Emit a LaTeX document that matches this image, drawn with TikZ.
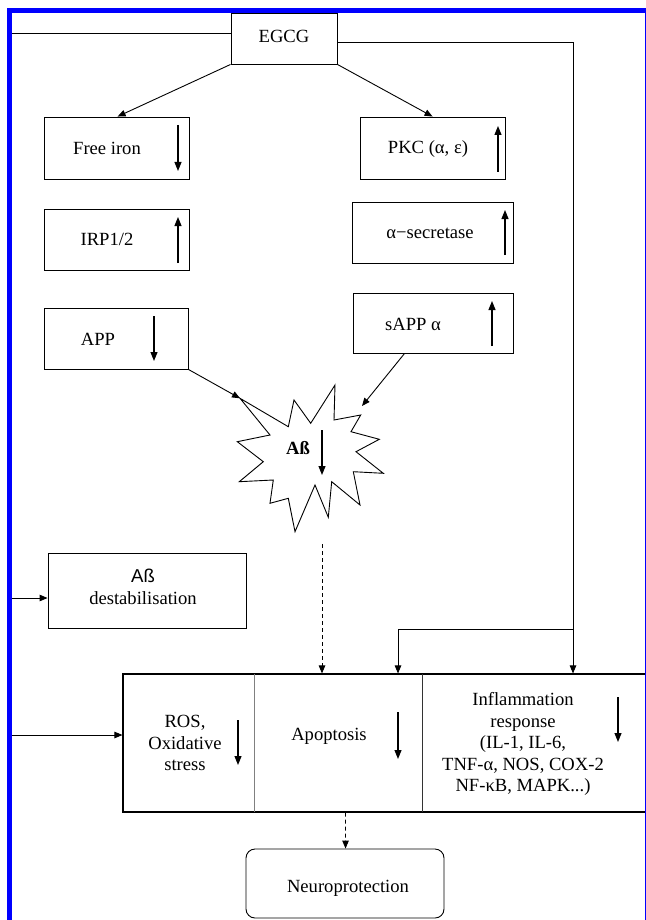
\documentclass[tikz,border=0pt]{standalone}
\usepackage{fontspec}
\setmainfont{Liberation Serif}
\newfontfamily\sansab{Liberation Sans}
\usetikzlibrary{arrows.meta,calc}
\begin{document}
\begin{tikzpicture}[x=1pt,y=-1pt,
  box/.style={draw=black, line width=0.9pt, rectangle, inner sep=0pt},
  lbl/.style={inner sep=0pt, font=\fontsize{18.6}{21.5}\selectfont, align=center},
  conn/.style={draw=black, line width=0.9pt, -{Triangle[length=8pt,width=6.5pt]}},
  dconn/.style={conn, dash pattern=on 4pt off 3pt},
  ind/.style={draw=black, line width=1.1pt, -{Triangle[length=9pt,width=7pt]}},
  frame/.style={draw=blue, line width=5pt}
]
\useasboundingbox (0,0) rectangle (645,920);
\fill[white] (0,0) rectangle (645,920);

% boxes
\node[box, minimum width=106pt, minimum height=51pt] (egcg) at (284,38.5) {};
\node[lbl] (egcgT) at (284,36) {EGCG};

\node[box, minimum width=145pt, minimum height=62pt] (fi) at (116.5,148) {};
\node[lbl] (fiT) at (107,148) {Free iron};
\node[box, minimum width=145pt, minimum height=61pt] (irp) at (116.5,239.5) {};
\node[lbl] (irpT) at (107,239) {IRP1/2};
\node[box, minimum width=144pt, minimum height=61pt] (app) at (116,338.5) {};
\node[lbl] (appT) at (98,339) {APP};

\node[box, minimum width=145pt, minimum height=62pt] (pkc) at (432.5,148) {};
\node[lbl] (pkcT) at (428,149) {PKC (α, ε)};
\node[box, minimum width=161pt, minimum height=61pt] (sec) at (432.5,232.5) {};
\node[lbl] (secT) at (430,233) {α−secretase};
\node[box, minimum width=160pt, minimum height=60pt] (sapp) at (433,323) {};
\node[lbl] (sappT) at (413,324) {sAPP α};

% star
\draw[line width=0.9pt, fill=white] (240,398.3) -- (288.3,426.7) -- (294,400) -- (310.7,423.3) -- (335,385) -- (334,420) -- (360.7,415) -- (351,431.7) -- (379.3,439.3) -- (356,451.7) -- (383.3,473.3) -- (353.3,471.7) -- (360,505) -- (331.7,481.7) -- (328.3,517.3) -- (315,485) -- (295,531.7) -- (288.3,498.3) -- (270,503.3) -- (273.3,480) -- (239.3,481.7) -- (263.3,461.7) -- (237.3,441.7) -- (270,435) -- cycle;
\coordinate (starTL) at (240,398.3);
\coordinate (starTR) at (362,406);
\coordinate (starB) at (322,544);
\node[lbl, font=\fontsize{18.6}{21.5}\selectfont\bfseries] (abT) at (298,448) {Aß};

\node[box, minimum width=198pt, minimum height=75pt] (dest) at (147,590.5) {};
\node[lbl] (destT) at (143,587) {{\sansab Aß}\\destabilisation};

% bottom big box
\node[box, line width=1.1pt, minimum width=523pt, minimum height=138pt] (big) at (384.5,743) {};
\draw[gray, line width=0.9pt] (254,674) -- (254,812);
\draw[black!80, line width=0.9pt] (422,674) -- (422,812);
\node[lbl] (rosT) at (185,743) {ROS,\\Oxidative\\stress};
\node[lbl] (apoT) at (329,736) {Apoptosis};
\node[lbl] (inflT) at (523,744) {Inflammation\\response\\(IL-1, IL-6,\\TNF-α, NOS, COX-2\\NF-κB, MAPK...)};

\node[box, rounded corners=9pt, minimum width=198pt, minimum height=69pt] (neuro) at (345,883.5) {};
\node[lbl] (neuroT) at (348,888) {Neuroprotection};

% indicator arrows
\draw[ind] (178,125) -- (178,171);
\draw[ind] (178,263) -- (178,217);
\draw[ind] (154,316) -- (154,361);
\draw[ind] (498,172) -- (498,126);
\draw[ind] (505,255) -- (505,210);
\draw[ind] (492,346) -- (492,301);
\draw[ind] (322,430) -- (322,475);
\draw[ind] (238,720) -- (238,765);
\draw[ind] (398,712) -- (398,759);
\draw[ind] (618,697) -- (618,742);

% blue frame
\draw[frame] (9.5,930) -- (9.5,10.5) -- (647,10.5) -- (647,930);

% connectors
\coordinate (lft) at (12,33);
\draw[line width=0.9pt] (egcg.west |- lft) -- (lft);
\coordinate (rt) at (573,42);
\draw[conn] (egcg.east |- rt) -- (rt) -- (rt |- big.north);
\coordinate (rtb) at (573,629);
\coordinate (br) at (398,629);
\draw[conn] (rtb) -- (br) -- (br |- big.north);
\draw[conn] (egcg.south west) -- ($(fi.north west)+(74,0)$);
\draw[conn] (egcg.south east) -- ($(pkc.north west)+(73,0)$);
\draw[conn] (app.south east) -- (starTL);
\draw[conn] ($(sapp.south west)+(52,0)$) -- (starTR);
\draw[dconn] (starB) -- (starB |- big.north);
\draw[dconn] ($(big.south west)+(223,0)$) -- ($(neuro.north west)+(100,0)$);
\coordinate (lb1) at (12,598);
\draw[conn] (lb1) -- (lb1 -| dest.west);
\coordinate (lb2) at (12,735);
\draw[conn] (lb2) -- (lb2 -| big.west);
\end{tikzpicture}
\end{document}
